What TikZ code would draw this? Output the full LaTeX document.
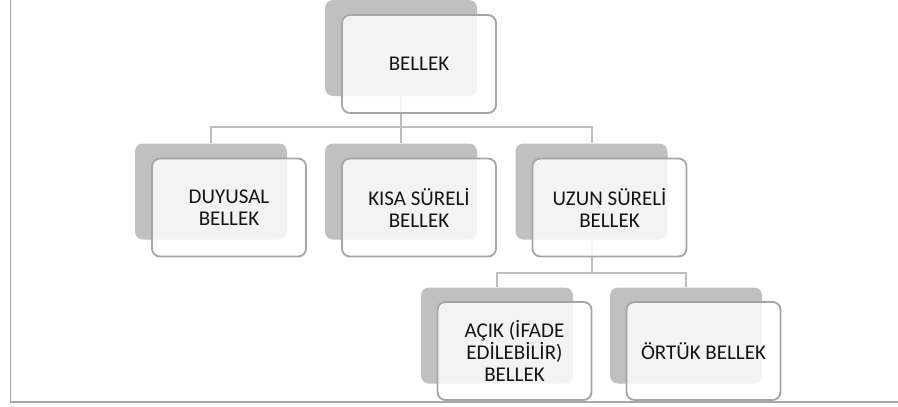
\documentclass[tikz,border=0pt]{standalone}
\usepackage{fontspec}
\setmainfont{Carlito}
\definecolor{shadowgray}{RGB}{192,192,192}
\definecolor{boxline}{RGB}{165,165,165}
\definecolor{linkgray}{RGB}{190,190,190}
\definecolor{framegray}{RGB}{168,168,168}
\definecolor{labelink}{RGB}{20,20,20}
\tikzset{
  backcard/.style={rectangle, rounded corners=8pt, fill=shadowgray, draw=none,
    minimum width=152pt, minimum height=96pt, inner sep=0pt},
  frontcard/.style={rectangle, rounded corners=8pt, fill=white, fill opacity=0.82,
    text opacity=1, draw=boxline, line width=1.8pt, text=labelink,
    minimum width=154pt, minimum height=98pt, inner sep=0pt, align=center,
    font=\fontsize{21}{22}\selectfont},
  link/.style={draw=linkgray, line width=2pt},
  frameline/.style={draw=framegray, line width=1.8pt}
}
\begin{document}
\begin{tikzpicture}[x=1pt, y=-1pt]
\useasboundingbox (0,0) rectangle (898,407);

% outer frame (left and bottom edges)
\coordinate (ftop) at (10.5,-2);
\coordinate (fcorner) at (10.5,402);
\coordinate (fright) at (900,402);
\draw[frameline] (ftop) -- (fcorner) -- (fright);

% back cards
\node[backcard] (sroot)  at (401,48) {};
\node[backcard] (sduy)   at (211,191.5) {};
\node[backcard] (skisa)  at (401,191.5) {};
\node[backcard] (suzun)  at (591.5,191.5) {};
\node[backcard] (sacik)  at (497,335.5) {};
\node[backcard] (sortuk) at (686,335.5) {};

% connectors
\draw[link] (sroot.south) -- ++(0,31) -| (sduy.north);
\draw[link] (sroot.south) -- ++(0,31) -| (skisa.north);
\draw[link] (sroot.south) -- ++(0,31) -| (suzun.north);
\draw[link] (suzun.south) -- ++(0,33) -| (sacik.north);
\draw[link] (suzun.south) -- ++(0,33) -| (sortuk.north);

% front cards
\node[frontcard] (root)  at (419,64) {BELLEK};
\node[frontcard] (duy)   at (229,207.5) {DUYUSAL\\BELLEK};
\node[frontcard] (kisa)  at (419,207.5) {KISA SÜRELİ\\BELLEK};
\node[frontcard] (uzun)  at (609.5,207.5) {UZUN SÜRELİ\\BELLEK};
\node[frontcard] (acik)  at (514.5,351) {AÇIK (İFADE\\EDİLEBİLİR)\\BELLEK};
\node[frontcard] (ortuk) at (703.5,351) {ÖRTÜK BELLEK};
\end{tikzpicture}
\end{document}
